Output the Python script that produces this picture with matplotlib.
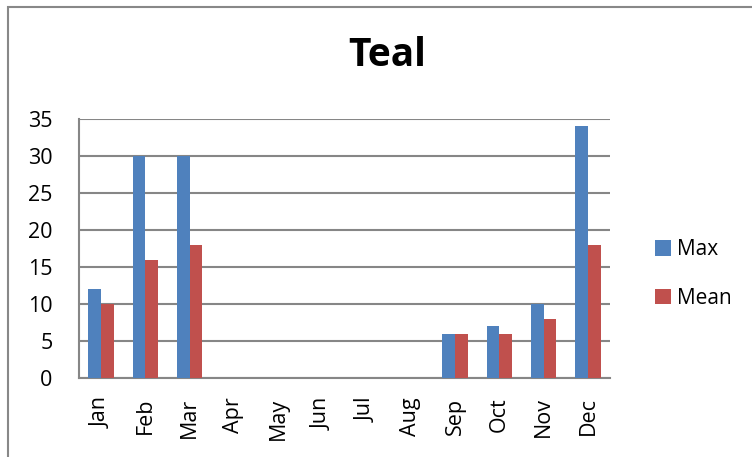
import numpy as np
import matplotlib
matplotlib.use("Agg")
import matplotlib.pyplot as plt
from matplotlib.patches import Rectangle

months = ["Jan", "Feb", "Mar", "Apr", "May", "Jun", "Jul", "Aug", "Sep", "Oct", "Nov", "Dec"]
max_vals = [12, 30, 30, np.nan, np.nan, np.nan, np.nan, np.nan, 6, 7, 10, 34]
mean_vals = [10, 16, 18, np.nan, np.nan, np.nan, np.nan, np.nan, 6, 6, 8, 18]
yticks = [0, 5, 10, 15, 20, 25, 30, 35]

plt.rcParams['font.family'] = ['Open Sans', 'DejaVu Sans']

fig = plt.figure(figsize=(7.52, 4.57), dpi=100)
W, H = 752, 457
ax = fig.add_axes([79 / W, 1 - 378 / H, (610 - 79) / W, (378 - 119) / H])

# outer frame
fig.patches.append(Rectangle((7.5 / W, -0.1), 1.0, 1 - 7.5 / H + 0.1, transform=fig.transFigure,
                             fill=False, edgecolor="#888888", linewidth=1.5))

x = np.arange(len(months))
bw = 1 / 3.5
ax.bar(x - bw / 2, max_vals, width=bw, color="#4F81BD", label="Max", zorder=3)
ax.bar(x + bw / 2, mean_vals, width=bw, color="#C0504D", label="Mean", zorder=3)

ax.set_xlim(-0.5, 11.5)
ax.set_ylim(0, 35)
ax.set_yticks(yticks)
ax.set_xticks(x)
ax.set_xticklabels(months, rotation=90, fontsize=15.5)
ax.tick_params(axis='y', labelsize=15.5, length=0, pad=19)
ax.tick_params(axis='x', length=0, pad=14)
ax.grid(axis='y', color="#868686", linewidth=1.5, zorder=0)
for s in ["top", "right"]:
    ax.spines[s].set_visible(False)
for s in ["left", "bottom"]:
    ax.spines[s].set_color("#868686")
    ax.spines[s].set_linewidth(1.5)

fig.text(387 / W, 1 - 56 / H, "Teal", ha="center", va="center", fontsize=28, fontweight="bold")

fig.legend(loc="center left", bbox_to_anchor=(636 / W, 1 - 274 / H), frameon=False,
           fontsize=15, handlelength=0.77, handleheight=0.77, handletextpad=0.3, labelspacing=1.3)

fig.savefig("out.png", dpi=100)
